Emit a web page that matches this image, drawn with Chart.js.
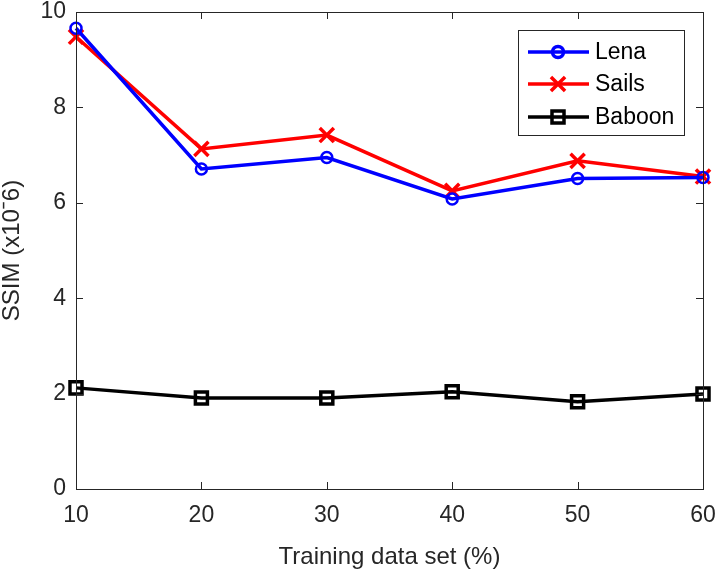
<!DOCTYPE html>
<html>
<head>
<meta charset="utf-8">
<script src="https://cdn.jsdelivr.net/npm/chart.js@4"></script>
<style>
  html, body { margin: 0; padding: 0; background: #fff; }
  #wrap { width: 720px; height: 575px; position: relative; }
</style>
</head>
<body>
<div id="wrap"><canvas id="grafico" width="720" height="575"></canvas></div>
<script>
'use strict';

// training set sizes (%)
const trainPerc = [10, 20, 30, 40, 50, 60];

// SSIM values (x10^-6)
const lena   = [9.66, 6.71, 6.95, 6.08, 6.51, 6.53];
const sails  = [9.48, 7.13, 7.42, 6.25, 6.88, 6.55];
const baboon = [2.12, 1.91, 1.91, 2.04, 1.83, 1.99];

const xTicks = [10, 20, 30, 40, 50, 60];
const yTicks = [0, 2, 4, 6, 8, 10];

const FONT = "'Liberation Sans', Arial, sans-serif";
const AX = '#262626';

function pts(vals) {
  return trainPerc.map((x, i) => ({ x: x, y: vals[i] }));
}

// box + inward ticks, MATLAB style
const boxTicks = {
  id: 'boxTicks',
  afterDatasetsDraw(chart) {
    const { ctx, chartArea: a, scales: { x, y } } = chart;
    ctx.save();
    ctx.strokeStyle = AX;
    ctx.lineWidth = 1;
    ctx.strokeRect(Math.round(a.left) + 0.5, Math.round(a.top) + 0.5,
      Math.round(a.right - a.left), Math.round(a.bottom - a.top));
    const L = 7;
    ctx.beginPath();
    xTicks.forEach(v => {
      const px = Math.round(x.getPixelForValue(v)) + 0.5;
      ctx.moveTo(px, a.bottom); ctx.lineTo(px, a.bottom - L);
      ctx.moveTo(px, a.top); ctx.lineTo(px, a.top + L);
    });
    yTicks.forEach(v => {
      const py = Math.round(y.getPixelForValue(v)) + 0.5;
      ctx.moveTo(a.left, py); ctx.lineTo(a.left + L, py);
      ctx.moveTo(a.right, py); ctx.lineTo(a.right - L, py);
    });
    ctx.stroke();
    ctx.restore();
  }
};

// legend box with line + marker samples
const legendBox = {
  id: 'legendBox',
  afterDraw(chart) {
    const ctx = chart.ctx;
    const bx = 518, by = 30, bw = 166, bh = 105;
    ctx.save();
    ctx.fillStyle = '#fff';
    ctx.fillRect(bx, by, bw, bh);
    ctx.strokeStyle = AX;
    ctx.lineWidth = 1;
    ctx.strokeRect(bx + 0.5, by + 0.5, bw, bh);
    const rows = [52, 84, 117];
    chart.data.datasets.forEach((ds, i) => {
      const yy = rows[i];
      ctx.strokeStyle = ds.borderColor;
      ctx.lineWidth = ds.borderWidth;
      ctx.beginPath();
      ctx.moveTo(528, yy); ctx.lineTo(589, yy);
      ctx.stroke();
      ctx.fillStyle = 'rgba(0,0,0,0)';
      Chart.helpers.drawPoint(ctx, {
        pointStyle: ds.pointStyle,
        radius: ds.pointRadius,
        borderWidth: ds.pointBorderWidth
      }, 558, yy);
      ctx.fillStyle = '#000';
      ctx.font = '23px ' + FONT;
      ctx.textBaseline = 'middle';
      ctx.fillText(ds.label, 595, yy + 1);
    });
    ctx.restore();
  }
};

function mkSet(label, vals, color, style, r, bw) {
  return {
    label: label,
    data: pts(vals),
    borderColor: color,
    backgroundColor: 'rgba(0,0,0,0)',
    pointBackgroundColor: 'rgba(0,0,0,0)',
    pointBorderColor: color,
    borderWidth: 3.5,
    pointStyle: style,
    pointRadius: r,
    pointBorderWidth: bw,
    tension: 0,
    clip: false
  };
}

new Chart(document.getElementById('grafico').getContext('2d'), {
  type: 'line',
  data: {
    datasets: [
      mkSet('Lena', lena, '#0000ff', 'circle', 5.5, 2.5),
      mkSet('Sails', sails, '#ff0000', 'crossRot', 10, 3.5),
      mkSet('Baboon', baboon, '#000000', 'rect', 8.5, 3.5)
    ]
  },
  options: {
    responsive: false,
    animation: false,
    layout: { autoPadding: false, padding: { left: 0, right: 17, top: 12, bottom: 0 } },
    plugins: { legend: { display: false }, tooltip: { enabled: false } },
    scales: {
      x: {
        type: 'linear', min: 10, max: 60,
        afterBuildTicks: s => { s.ticks = xTicks.map(v => ({ value: v })); },
        afterFit: s => { s.height = 86; s.paddingLeft = 0; s.paddingRight = 0; },
        grid: { display: false, drawTicks: false },
        border: { display: false },
        ticks: { color: AX, padding: 15, font: { family: FONT, size: 23, lineHeight: 1 } },
        title: {
          display: true, text: 'Training data set (%)', color: AX,
          font: { family: FONT, size: 24, lineHeight: 1 }, padding: { top: 0, bottom: 6 }
        }
      },
      y: {
        min: 0, max: 10,
        afterBuildTicks: s => { s.ticks = yTicks.map(v => ({ value: v })); },
        afterFit: s => { s.width = 76; s.paddingTop = 0; s.paddingBottom = 0; },
        grid: { display: false, drawTicks: false },
        border: { display: false },
        ticks: { color: AX, padding: 10, font: { family: FONT, size: 23, lineHeight: 1 } },
        title: {
          display: true, text: 'SSIM (x10ˉ6)', color: AX,
          font: { family: FONT, size: 24, lineHeight: 1 }, padding: { top: 0, bottom: 0 }
        }
      }
    }
  },
  plugins: [boxTicks, legendBox]
});
</script>
</body>
</html>
